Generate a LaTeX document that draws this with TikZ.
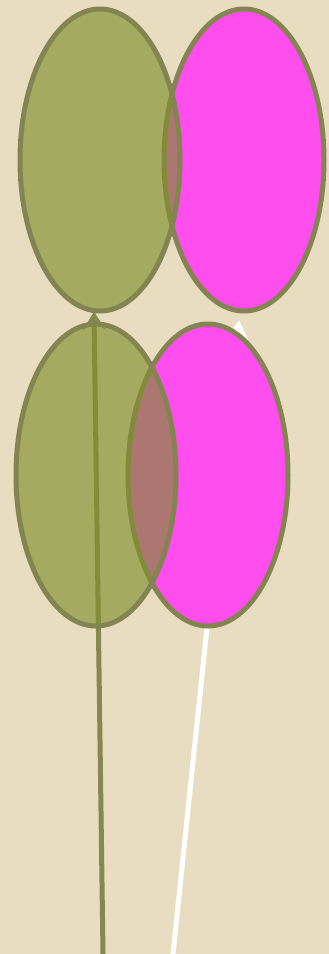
\documentclass[tikz,border=0pt]{standalone}
\usepackage{xcolor}
\usepackage{tikz}
\usetikzlibrary{shapes.geometric,arrows.meta,backgrounds}
\definecolor{PAPERcolor}{HTML}{E9DDC1}
\definecolor{OLIVEcolor}{RGB}{128,143,45}
\definecolor{RIMcolor}{HTML}{848452}
\definecolor{PINKcolor}{HTML}{FF4DEE}
\definecolor{STEMcolor}{HTML}{878750}

\tikzset{
  balloon/.style={ellipse, draw=RIMcolor, line width=5pt, inner sep=0pt,
    minimum width=160pt, minimum height=302pt},
  stem/.style={line width=5pt, -{Stealth[length=18pt,width=22pt,inset=7pt]}}
}

\begin{document}
\begin{tikzpicture}[x=1pt, y=-1pt]
  \useasboundingbox (0,0) rectangle (329,954);
  % pink ones first, olive ones see-through on top
  \foreach \nm/\cx/\cy in {pinktop/244/160, pinkbot/208/475} {
    \node[balloon, fill=PINKcolor] (\nm) at (\cx,\cy) {};
  }
  \foreach \nm/\cx/\cy in {olivetop/100/160, olivebot/96/475} {
    \node[balloon, fill=OLIVEcolor, fill opacity=0.65] (\nm) at (\cx,\cy) {};
  }
  \coordinate (olivebase) at (103,954);
  \coordinate (whitebase) at (173,954);
  \begin{scope}[on background layer]
    \fill[PAPERcolor] (0,0) rectangle (329,954);
    \draw[stem, STEMcolor] (olivebase) -- ([xshift=-6pt,yshift=2pt]olivetop.south);
    \draw[stem, white] (whitebase) -- ([xshift=-5pt,yshift=-7pt]pinktop.south);
  \end{scope}
\end{tikzpicture}
\end{document}
